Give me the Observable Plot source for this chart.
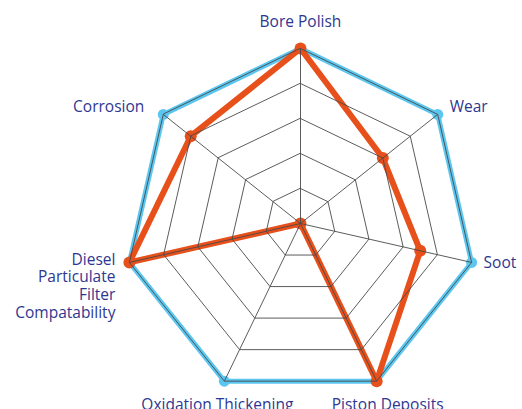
<!DOCTYPE html>
<html>
<head>
<meta charset="utf-8">
<script src="https://cdn.jsdelivr.net/npm/d3@7"></script>
<script src="https://cdn.jsdelivr.net/npm/@observablehq/plot@0.6"></script>
<style>
  html, body { margin: 0; padding: 0; background: #fff; }
  #chart svg { display: block; }
</style>
</head>
<body>
<div id="chart"></div>
<script>
// ---- data ----
const axes = [
  "Bore Polish",
  "Wear",
  "Soot",
  "Piston Deposits",
  "Oxidation Thickening",
  "Diesel\nParticulate\nFilter\nCompatability",
  "Corrosion"
];
const maxScores = [5, 5, 5, 5, 5, 5, 5];
const productScores = [5, 3, 3.5, 5, 0, 5, 4];
const ringLevels = [1, 2, 3, 4, 5];

// ---- geometry helpers ----
const n = axes.length;
const ang = i => (2 * Math.PI * i) / n;
const toXY = (v, i) => ({ x: v * Math.sin(ang(i)), y: v * Math.cos(ang(i)), i });

const bluePts = maxScores.map((v, i) => toXY(v, i));
const orangePts = productScores.map((v, i) => toXY(v, i));
const rings = ringLevels.flatMap(r => axes.map((_, i) => ({ ...toXY(r, i), r })));
const outer = Math.max(...ringLevels);
const spokes = axes.map((_, i) => ({ x1: 0, y1: 0, x2: toXY(outer, i).x, y2: toXY(outer, i).y }));

const labels = axes.map((name, i) => {
  const s = Math.sin(ang(i)), c = Math.cos(ang(i));
  const p = toXY(outer, i);
  let anchor = "middle", dx = 0, dy = 0, lineAnchor = "middle";
  if (Math.abs(s) < 0.1) { dy = -27; }
  else if (c < -0.5) { dx = s > 0 ? 11 : -7; dy = 23; }
  else {
    anchor = s > 0 ? "start" : "end";
    dx = s > 0 ? 12 : (c > 0.5 ? -19 : -14);
    dy = c > 0.5 ? -8.5 : (s > 0 ? 0 : -3);
    if (name.includes("\n")) { lineAnchor = "top"; dy = -10.5; }
  }
  return { ...p, name, anchor, dx, dy, lineAnchor };
});

const BLUE = "#5bc6ef";
const ORANGE = "#e8501b";
const GRID = "#4a4a4a";
const TEXT = "#2e3790";

const textMarks = labels.map(l => Plot.text([l], {
  x: "x", y: "y", text: "name",
  textAnchor: l.anchor, lineAnchor: l.lineAnchor,
  dx: l.dx, dy: l.dy,
  fill: TEXT, fontSize: 15.5, lineHeight: 1.15
}));

const chart = Plot.plot({
  width: 522,
  height: 409,
  margin: 0,
  style: { fontFamily: "'Open Sans', sans-serif", background: "#fff" },
  x: { domain: [-5, 5], range: [124.5, 475.5], axis: null },
  y: { domain: [-5, 5], range: [398, 48], axis: null },
  marks: [
    Plot.line(bluePts, { x: "x", y: "y", curve: "linear-closed", stroke: BLUE, strokeWidth: 5, strokeLinejoin: "round" }),
    Plot.dot(bluePts, { x: "x", y: "y", r: 5.5, fill: BLUE }),
    Plot.line(orangePts, { x: "x", y: "y", curve: "linear-closed", stroke: ORANGE, strokeWidth: 6, strokeLinejoin: "round" }),
    Plot.dot(orangePts, { x: "x", y: "y", r: 6, fill: ORANGE }),
    Plot.line(rings, { x: "x", y: "y", z: "r", curve: "linear-closed", stroke: GRID, strokeWidth: 0.9 }),
    Plot.link(spokes, { x1: "x1", y1: "y1", x2: "x2", y2: "y2", stroke: GRID, strokeWidth: 0.9 }),
    ...textMarks
  ]
});
document.getElementById("chart").appendChild(chart);
</script>
</body>
</html>
